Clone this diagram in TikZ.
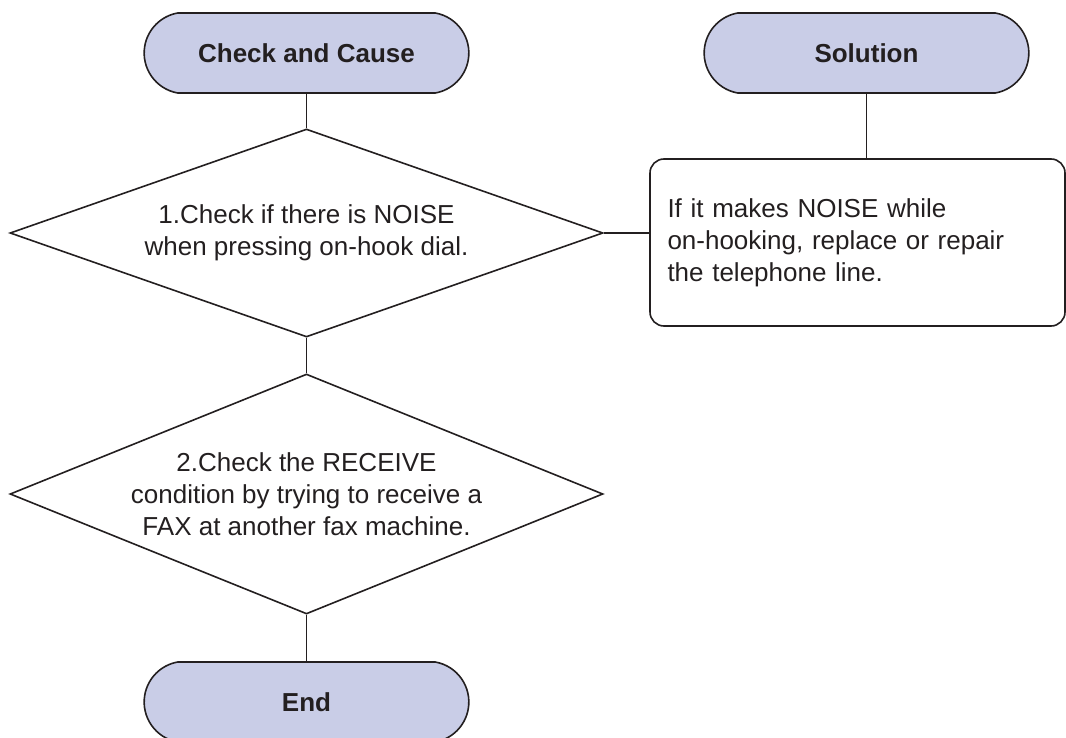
\documentclass[tikz,border=0pt]{standalone}
\usepackage{fontspec}
\setmainfont{Liberation Sans}
\usetikzlibrary{shapes.misc,shapes.geometric}

\definecolor{termfill}{RGB}{201,205,231}
\definecolor{ink}{RGB}{35,31,32}

\tikzset{
	terminal/.style={rounded rectangle,rounded rectangle arc length=160,draw=ink,fill=termfill,
		line width=0.8pt,minimum width=169pt,minimum height=40pt,font=\fontsize{13}{16}\selectfont\bfseries},
	decision/.style={diamond,draw=ink,line width=0.8pt,inner sep=0pt,align=center,
		minimum width=296.5pt},
	answer/.style={rectangle,rounded corners=7pt,draw=ink,line width=0.8pt,align=left,
		text width=190pt,inner xsep=8.5pt,minimum width=207.5pt,minimum height=83.5pt}
}

\begin{document}
\begin{tikzpicture}[x=0.5pt,y=-0.5pt,line width=0.8pt,
		every node/.style={text=ink,font=\fontsize{13}{16}\selectfont}]
	\useasboundingbox (0,0) rectangle (1066,738);
	
	% Headers
	\node[terminal] (check) at (306.5,53) {Check and Cause};
	\node[terminal] (sol) at (866.5,53) {Solution};
	
	% Steps
	\node[decision,aspect=2.85,minimum height=104pt] (d1) at (306.5,233)
		{1.Check if there is NOISE\\when pressing on-hook dial.};
	\node[decision,aspect=2.47,minimum height=120pt] (d2) at (306.5,494)
		{2.Check the RECEIVE\\condition by trying to receive a\\FAX at another fax machine.};
	\node[answer] (fix) at (857.5,242.5)
		{If it makes NOISE while\\on-hooking, replace or repair\\the telephone line.};
	
	% End
	\node[terminal] (stop) at (306.5,702) {End};
	
	% Lines
	\draw[ink] (check.south) -- (d1.north);
	\draw[ink] (sol.south) -- (sol.south |- fix.north);
	\draw[ink] (d1.east) -- (d1.east -| fix.west);
	\draw[ink] (d1.south) -- (d2.north);
	\draw[ink] (d2.south) -- (stop.north);
\end{tikzpicture}
\end{document}
